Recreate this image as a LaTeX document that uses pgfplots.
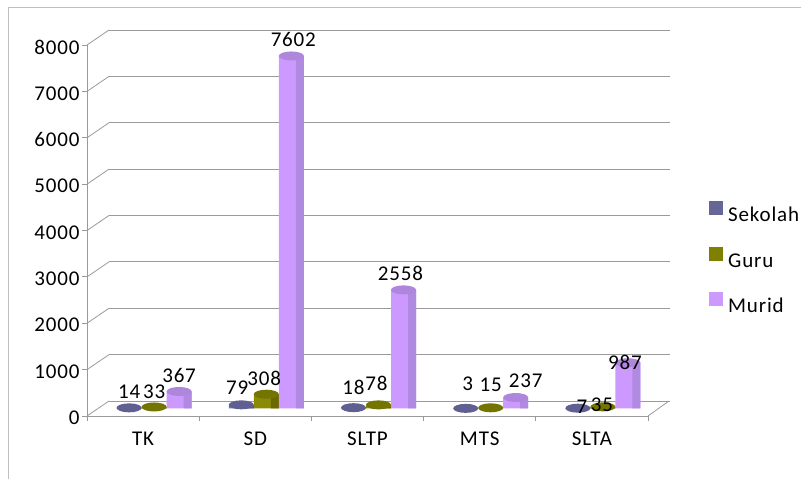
\documentclass[border=0pt]{standalone}
\usepackage{pgfplots}
\pgfplotsset{compat=1.18}
\usepackage{pgfplotstable}
\usepackage{fontspec}
\setmainfont{Carlito}[LetterSpace=4]
\newcommand{\fs}{\fontsize{21}{25}\selectfont}
\definecolor{sekA}{HTML}{7171A6}
\definecolor{sekB}{HTML}{56568A}
\definecolor{sekT}{HTML}{5F5F92}
\definecolor{sekL}{HTML}{666699}
\definecolor{guA}{HTML}{8A8A06}
\definecolor{guB}{HTML}{696900}
\definecolor{guT}{HTML}{747400}
\definecolor{guL}{HTML}{808000}
\definecolor{muA}{HTML}{CC99FF}
\definecolor{muB}{HTML}{B08AE0}
\definecolor{muT}{HTML}{AE86DC}
\definecolor{muL}{HTML}{CC99FF}
\definecolor{gridc}{HTML}{9A9A9A}
\pgfdeclareplotmark{cyltop}{\pgfpathellipse{\pgfpointorigin}{\pgfqpoint{12.5pt}{0pt}}{\pgfqpoint{0pt}{4.5pt}}\pgfusepathqfill}

% values, then label offsets (vertical o*, horizontal h*) in pt
\pgfplotstableread{
x    s   g    m     os  og  om    hs  hg  hm
0.5  14  33   367   9   8   8.5   0   0   0
1.5  79  308  7602  10  9   9     -4  -2  2
2.5  18  78   2558  13  14  9     0   -2  -3
3.5  3   15   237   18  16  10.5  2   0   10
4.5  7   35   987   -5  -5  -7    4   -1  -3
}\datatable

\pgfplotsset{base/.style={width=561pt, height=371pt, scale only axis,
  xmin=0, xmax=5, ymin=0, ymax=8000, scaled y ticks=false,
  /pgf/number format/1000 sep={}, /pgf/number format/assume math mode=true}}

\begin{document}
\begin{tikzpicture}[x=1pt,y=1pt]
\path[use as bounding box] (0,0) rectangle (801,479);
\draw[black!25, line width=1pt] (8,-2) -- (8,471) -- (803,471);

% back wall
\begin{axis}[base, at={(109pt,78pt)},
  axis line style={draw=none}, xtick=\empty,
  ytick={0,1000,...,8000}, yticklabels={}, major tick length=0pt,
  ymajorgrids, grid style={gridc, line width=0.8pt}]
\end{axis}

% front frame
\begin{axis}[base, at={(87pt,63pt)},
  axis x line*=bottom, axis y line*=left,
  axis line style={gridc, line width=0.8pt, -},
  ytick={0,1000,...,8000},
  xtick={0,1,2,3,4,5}, xticklabels={},
  extra x ticks={0.5,1.5,2.5,3.5,4.5},
  extra x tick labels={TK,SD,SLTP,MTS,SLTA},
  extra x tick style={major tick length=0pt, xticklabel style={yshift=-12pt}},
  tick align=outside, major tick length=5pt,
  tick style={gridc, line width=0.8pt},
  ticklabel style={font=\fs, text=black},
  yticklabel style={yshift=-2pt, xshift=1pt},
  clip=false]
\pgfplotsinvokeforeach{0,1000,2000,3000,4000,5000,6000,7000,8000}{
  \draw[gridc, line width=0.8pt] (axis cs:0,#1) -- ++(22pt,15pt);}
\draw[gridc, line width=0.8pt] (axis cs:5,0) -- ++(21pt,15pt);
\end{axis}

% cylinders
\begin{axis}[base, at={(98pt,70.5pt)}, hide axis, clip=false,
  legend style={at={(1.0838,0.5647)}, anchor=north west, draw=none, fill=none,
    font=\fs, row sep=25pt, column sep=5pt,
    nodes={inner sep=0pt, text height=15pt, text depth=0pt}},
  legend cell align=left,
  lbl/.style n args={2}{nodes near coords, point meta=explicit symbolic,
    visualization depends on={\thisrow{#1} \as \myoff},
    visualization depends on={\thisrow{#2} \as \myxoff},
    nodes near coords style={anchor=base, yshift=\myoff pt, xshift=\myxoff pt,
      font=\fs, inner sep=0pt, text=black}}]
% Sekolah
\addplot[ybar, bar width=25pt, bar shift=-25pt, fill=sekA, draw=none,
  legend image code/.code={\fill[sekL] (0pt,-1pt) rectangle (14pt,13pt);}]
  table[x=x,y=s]{\datatable};
\addlegendentry{Sekolah}
\addplot[ybar, bar width=8pt, bar shift=-16.5pt, fill=sekB, draw=none, forget plot]
  table[x=x,y=s]{\datatable};
\addplot[only marks, mark=cyltop, mark options={fill=sekT, draw=none, xshift=-25pt},
  lbl={os}{hs}, forget plot]
  table[x=x,y=s,meta=s]{\datatable};
% Guru
\addplot[ybar, bar width=25pt, bar shift=0pt, fill=guA, draw=none,
  legend image code/.code={\fill[guL] (0pt,-1pt) rectangle (14pt,13pt);}]
  table[x=x,y=g]{\datatable};
\addlegendentry{Guru}
\addplot[ybar, bar width=8pt, bar shift=8.5pt, fill=guB, draw=none, forget plot]
  table[x=x,y=g]{\datatable};
\addplot[only marks, mark=cyltop, mark options={fill=guT, draw=none},
  lbl={og}{hg}, forget plot]
  table[x=x,y=g,meta=g]{\datatable};
% Murid
\addplot[ybar, bar width=25pt, bar shift=25pt, fill=muA, draw=none,
  legend image code/.code={\fill[muL] (0pt,-1pt) rectangle (14pt,13pt);}]
  table[x=x,y=m]{\datatable};
\addlegendentry{Murid}
\addplot[ybar, bar width=8pt, bar shift=33.5pt, fill=muB, draw=none, forget plot]
  table[x=x,y=m]{\datatable};
\addplot[only marks, mark=cyltop, mark options={fill=muT, draw=none, xshift=25pt},
  lbl={om}{hm}, forget plot]
  table[x=x,y=m,meta=m]{\datatable};
\end{axis}
\end{tikzpicture}
\end{document}
